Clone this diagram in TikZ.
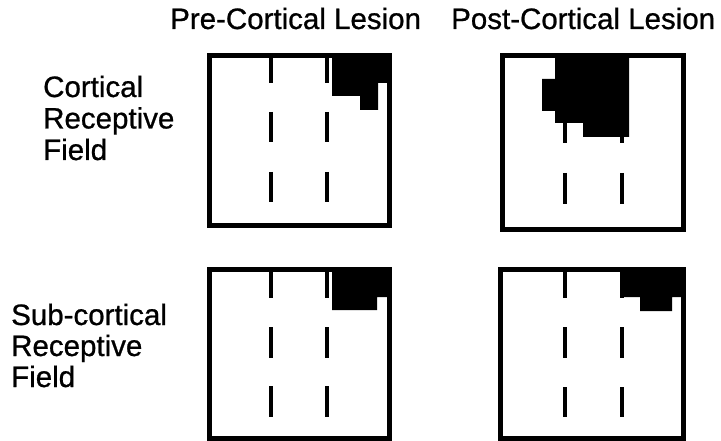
\documentclass[tikz,border=0pt]{standalone}
\usepackage{fontspec}
\setmainfont{Liberation Sans}[FakeBold=0.8]
\begin{document}
\begin{tikzpicture}[x=1pt,y=-1pt,
  rfbox/.style={draw=black,line width=5pt},
  rfdash/.style={draw=black,line width=4pt},
  rfblob/.style={fill=black},
  lbl/.style={anchor=base west,inner sep=0pt,font=\fontsize{29.5}{31.5}\selectfont}]
\useasboundingbox (0,0) rectangle (721,441);
% headers
\node[lbl] (hpre) at (170,29) {Pre-Cortical Lesion};
\node[lbl] (hpost) at (451,29) {Post-Cortical Lesion};
% row labels
\node[lbl] (c1) at (43,97) {Cortical};
\node[lbl] (c2) at (43,128.5) {Receptive};
\node[lbl] (c3) at (43,160) {Field};
\node[lbl] (s1) at (11,325) {Sub-cortical};
\node[lbl] (s2) at (11,356) {Receptive};
\node[lbl] (s3) at (11,387) {Field};
% dashes box 1
\foreach \x in {271,327}{
  \draw[rfdash] (\x,55) -- (\x,83);
  \draw[rfdash] (\x,112) -- (\x,142);
  \draw[rfdash] (\x,172) -- (\x,202);}
% dashes box 2
\foreach \x in {564.5,621.5}{
  \draw[rfdash] (\x,55) -- (\x,83);
  \draw[rfdash] (\x,112) -- (\x,143);
  \draw[rfdash] (\x,173) -- (\x,204);}
% dashes box 3
\foreach \x in {271,327}{
  \draw[rfdash] (\x,269) -- (\x,298);
  \draw[rfdash] (\x,327) -- (\x,358);
  \draw[rfdash] (\x,386) -- (\x,417);}
% dashes box 4
\foreach \x in {564.5,621.5}{
  \draw[rfdash] (\x,269) -- (\x,298);
  \draw[rfdash] (\x,327) -- (\x,358);
  \draw[rfdash] (\x,387) -- (\x,417);}
% receptive field blobs
\fill[rfblob] (332,55) -- (389,55) -- (389,83) -- (378,83) -- (378,110) -- (360,110) -- (360,96) -- (332,96) -- cycle;
\fill[rfblob] (555,55) -- (629,55) -- (629,137) -- (583,137) -- (583,123) -- (555,123) -- (555,111) -- (542,111) -- (542,79) -- (555,79) -- cycle;
\fill[rfblob] (332,269) -- (389,269) -- (389,297) -- (377,297) -- (377,310) -- (332,310) -- cycle;
\fill[rfblob] (623,269) -- (683,269) -- (683,297) -- (672,297) -- (672,311) -- (640,311) -- (640,297) -- (623,297) -- cycle;
% frames
\draw[rfbox] (209.5,55.5) rectangle (389.5,226);
\draw[rfbox] (502.5,55.5) rectangle (683.5,229.5);
\draw[rfbox] (209.5,269) rectangle (389.5,438.5);
\draw[rfbox] (500,269) rectangle (683.5,438.5);
\end{tikzpicture}
\end{document}
